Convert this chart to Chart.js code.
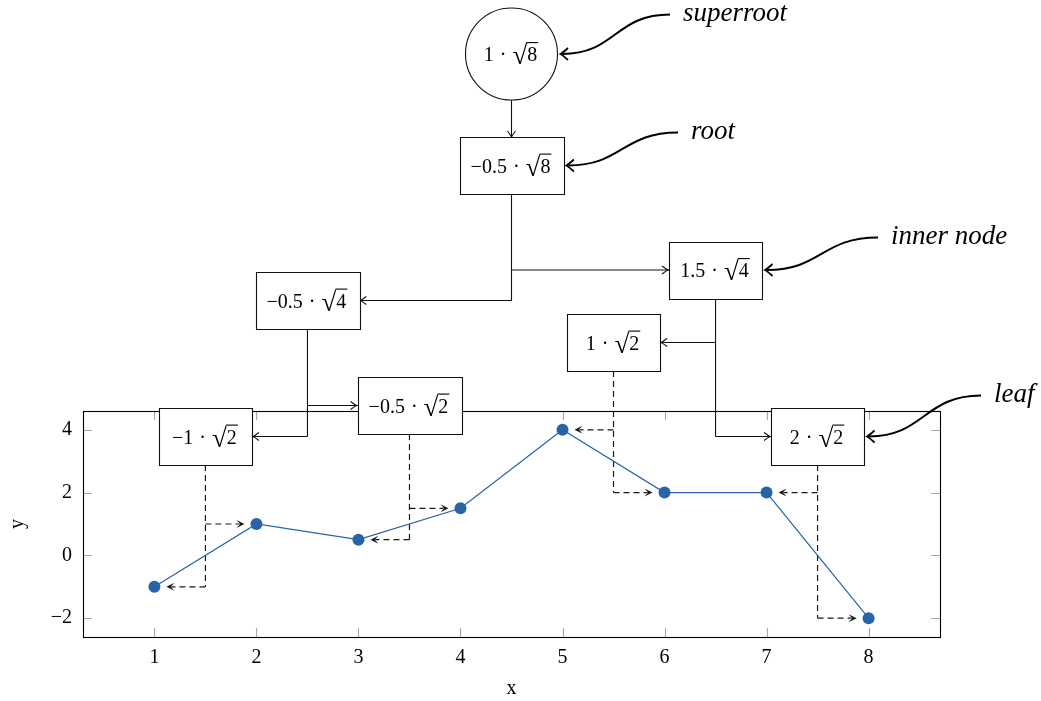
<!DOCTYPE html>
<html>
<head>
<meta charset="utf-8">
<script src="https://cdn.jsdelivr.net/npm/chart.js@4/dist/chart.umd.min.js"></script>
<style>
  html, body { margin: 0; padding: 0; background: #fff; }
  canvas { display: block; }
</style>
</head>
<body>
<canvas id="chart" width="1041" height="701"></canvas>
<script>
// signal samples
const xValues = [1, 2, 3, 4, 5, 6, 7, 8];
const yValues = [-1, 1, 0.5, 1.5, 4, 2, 2, -2];
const xTicks = [1, 2, 3, 4, 5, 6, 7, 8];
const yTicks = [-2, 0, 2, 4];

// Haar coefficients in heap order: superroot, root, two inner nodes, four leaves
const coefficients = [1, -0.5, -0.5, 1.5, -1, -0.5, 1, 2];
const radicands = [8, 8, 4, 4, 2, 2, 2, 2];
const noteLabels = ['superroot', 'root', 'inner node', 'leaf'];

// layout of the tree above the plot (pixels)
const nodeCenterY = [54, 165.5, 300.5, 270, 436.5, 405.5, 342.5, 436.5];
const noteNodes = [0, 1, 3, 7];
const notePos = [[683, 21], [691, 139], [891, 244], [994, 402]];

const BLUE = '#2763a6';
const INK = '#111';
const SERIF = '"Liberation Serif", "DejaVu Serif", serif';
const MATH_FONT = '20px ' + SERIF;
const ROOT_FONT = '27px ' + SERIF;
const NOTE_FONT = 'italic 27px ' + SERIF;
const OP_GAP = 6;
const BOX_H = 57;
const CIRCLE_R = 46;

const fmt = v => String(v).replace('-', '\u2212');

// --- small drawing helpers -------------------------------------------------

// widths of the pieces of "c · √r"
function mathMetrics(ctx, coef, rad) {
  ctx.font = MATH_FONT;
  const wCoef = ctx.measureText(fmt(coef)).width;
  const wDot = ctx.measureText('\u00b7').width;
  const wRad = ctx.measureText(String(rad)).width;
  ctx.font = ROOT_FONT;
  const root = ctx.measureText('\u221a');
  const width = wCoef + OP_GAP + wDot + OP_GAP + root.width + wRad + 2;
  return { wCoef, wDot, wRad, root, width };
}

function drawMath(ctx, cx, base, coef, rad) {
  const m = mathMetrics(ctx, coef, rad);
  ctx.fillStyle = '#000';
  ctx.strokeStyle = '#000';
  ctx.textAlign = 'left';
  ctx.textBaseline = 'alphabetic';
  let x = cx - m.width / 2;
  ctx.font = MATH_FONT;
  ctx.fillText(fmt(coef), x, base);
  x += m.wCoef + OP_GAP;
  ctx.fillText('\u00b7', x, base);
  x += m.wDot + OP_GAP;
  ctx.font = ROOT_FONT;
  const rootBase = base + 3;
  ctx.fillText('\u221a', x, rootBase);
  const top = rootBase - m.root.actualBoundingBoxAscent;
  const barFrom = x + m.root.actualBoundingBoxRight - 1;
  x += m.root.width;
  ctx.font = MATH_FONT;
  ctx.fillText(String(rad), x, base);
  ctx.beginPath();
  ctx.moveTo(barFrom, top + 0.6);
  ctx.lineTo(x + m.wRad + 1, top + 0.6);
  ctx.lineWidth = 1.1;
  ctx.stroke();
}

// open "to" arrow tip
function tipTo(ctx, x, y, angle, len, half, lw) {
  ctx.save();
  ctx.translate(x, y);
  ctx.rotate(angle);
  ctx.beginPath();
  ctx.moveTo(-len, -half);
  ctx.quadraticCurveTo(-len * 0.3, -half * 0.2, 0, 0);
  ctx.quadraticCurveTo(-len * 0.3, half * 0.2, -len, half);
  ctx.lineWidth = lw;
  ctx.setLineDash([]);
  ctx.stroke();
  ctx.restore();
}

// filled stealth tip
function tipStealth(ctx, x, y, angle, len, half) {
  ctx.save();
  ctx.translate(x, y);
  ctx.rotate(angle);
  ctx.beginPath();
  ctx.moveTo(0, 0);
  ctx.lineTo(-len, -half);
  ctx.lineTo(-len * 0.55, 0);
  ctx.lineTo(-len, half);
  ctx.closePath();
  ctx.fill();
  ctx.restore();
}

// x position of a heap node: middle of the samples it covers
function nodeX(n) {
  if (n === 0) n = 1;
  const depth = Math.floor(Math.log2(n));
  const span = xValues.length >> depth;
  const start = (n - (1 << depth)) * span;
  return (xValues[start] + xValues[start + span - 1]) / 2;
}

function nodeBox(ctx, xs, n) {
  const cx = xs.getPixelForValue(nodeX(n));
  const cy = nodeCenterY[n];
  if (n === 0) {
    return { cx, cy, left: cx - CIRCLE_R, right: cx + CIRCLE_R, top: cy - CIRCLE_R, bottom: cy + CIRCLE_R };
  }
  const w = Math.max(93, mathMetrics(ctx, coefficients[n], radicands[n]).width + 22);
  return { cx, cy, w, left: cx - w / 2, right: cx + w / 2, top: cy - BOX_H / 2, bottom: cy + BOX_H / 2 };
}

// --- plugin ----------------------------------------------------------------

const haarTree = {
  id: 'haarTree',

  beforeDatasetsDraw(chart) {
    const { ctx, chartArea: a, scales: { x: xs, y: ys } } = chart;
    ctx.save();

    // inward tick marks on all four sides
    ctx.strokeStyle = '#a6a6a6';
    ctx.lineWidth = 1.1;
    ctx.beginPath();
    xTicks.forEach(v => {
      const px = Math.round(xs.getPixelForValue(v)) + 0.5;
      ctx.moveTo(px, a.bottom); ctx.lineTo(px, a.bottom - 9);
      ctx.moveTo(px, a.top); ctx.lineTo(px, a.top + 9);
    });
    yTicks.forEach(v => {
      const py = Math.round(ys.getPixelForValue(v)) + 0.5;
      ctx.moveTo(a.left, py); ctx.lineTo(a.left + 9, py);
      ctx.moveTo(a.right, py); ctx.lineTo(a.right - 9, py);
    });
    ctx.stroke();

    // axis frame
    ctx.strokeStyle = '#000';
    ctx.lineWidth = 1.1;
    ctx.strokeRect(Math.round(a.left) + 0.5, Math.round(a.top) + 0.5,
      Math.round(a.right - a.left), Math.round(a.bottom - a.top));

    // dashed links from each leaf to its two samples
    ctx.strokeStyle = '#1a1a1a';
    ctx.fillStyle = '#1a1a1a';
    ctx.lineWidth = 1.2;
    for (let k = 0; k < 4; k++) {
      const b = nodeBox(ctx, xs, 4 + k);
      const i = 2 * k, j = 2 * k + 1;
      const lx = b.cx;
      const pl = [xs.getPixelForValue(xValues[i]), ys.getPixelForValue(yValues[i])];
      const pr = [xs.getPixelForValue(xValues[j]), ys.getPixelForValue(yValues[j])];
      const low = Math.max(pl[1], pr[1]);
      ctx.setLineDash([6, 4]);
      ctx.beginPath();
      ctx.moveTo(lx, b.bottom); ctx.lineTo(lx, low);
      ctx.moveTo(lx, pl[1]); ctx.lineTo(pl[0] + 17, pl[1]);
      ctx.moveTo(lx, pr[1]); ctx.lineTo(pr[0] - 17, pr[1]);
      ctx.stroke();
      ctx.setLineDash([]);
      tipStealth(ctx, pl[0] + 12, pl[1], Math.PI, 8, 4);
      tipStealth(ctx, pr[0] - 12, pr[1], 0, 8, 4);
    }
    ctx.restore();
  },

  afterDatasetsDraw(chart) {
    const { ctx, scales: { x: xs } } = chart;
    ctx.save();
    const boxes = coefficients.map((c, n) => nodeBox(ctx, xs, n));

    // tree edges
    ctx.strokeStyle = INK;
    ctx.lineWidth = 1.1;
    const sup = boxes[0], root = boxes[1];
    ctx.beginPath();
    ctx.moveTo(sup.cx, sup.bottom); ctx.lineTo(root.cx, root.top - 1);
    ctx.stroke();
    tipTo(ctx, root.cx, root.top, Math.PI / 2, 6, 4, 1.1);

    for (let p = 1; p < 4; p++) {
      const par = boxes[p];
      const kids = [boxes[2 * p], boxes[2 * p + 1]];
      const low = Math.max(kids[0].cy, kids[1].cy);
      ctx.beginPath();
      ctx.moveTo(par.cx, par.bottom); ctx.lineTo(par.cx, low);
      kids.forEach(kb => {
        const edge = kb.cx < par.cx ? kb.right : kb.left;
        ctx.moveTo(par.cx, kb.cy); ctx.lineTo(edge, kb.cy);
      });
      ctx.stroke();
      kids.forEach(kb => {
        if (kb.cx < par.cx) tipTo(ctx, kb.right + 1, kb.cy, Math.PI, 6, 4, 1.1);
        else tipTo(ctx, kb.left - 1, kb.cy, 0, 6, 4, 1.1);
      });
    }

    // nodes
    boxes.forEach((b, n) => {
      ctx.fillStyle = '#fff';
      ctx.strokeStyle = INK;
      ctx.lineWidth = 1.1;
      ctx.beginPath();
      if (n === 0) ctx.arc(b.cx, b.cy, CIRCLE_R, 0, Math.PI * 2);
      else ctx.rect(Math.round(b.left) + 0.5, Math.round(b.top) + 0.5, Math.round(b.w), BOX_H);
      ctx.fill();
      ctx.stroke();
      drawMath(ctx, b.cx, b.cy + 7, coefficients[n], radicands[n]);
    });

    // curved notes
    ctx.font = NOTE_FONT;
    ctx.textAlign = 'left';
    ctx.textBaseline = 'alphabetic';
    noteLabels.forEach((label, i) => {
      const b = boxes[noteNodes[i]];
      const [tx, ty] = notePos[i];
      ctx.fillStyle = '#000';
      ctx.fillText(label, tx, ty);
      const sx = tx - 13, sy = ty - 6.5;
      const ex = b.right + 3, ey = b.cy;
      const k = (sx - ex) * 0.5;
      ctx.strokeStyle = '#000';
      ctx.lineWidth = 2;
      ctx.beginPath();
      ctx.moveTo(sx, sy);
      ctx.bezierCurveTo(sx - k, sy, ex + k, ey, ex + 2, ey);
      ctx.stroke();
      tipTo(ctx, ex, ey, Math.PI, 7.5, 6, 1.8);
    });
    ctx.restore();
  }
};

// --- chart -----------------------------------------------------------------

const tickFont = { family: SERIF, size: 20 };

new Chart(document.getElementById('chart'), {
  type: 'line',
  data: {
    datasets: [{
      data: xValues.map((x, i) => ({ x, y: yValues[i] })),
      borderColor: BLUE,
      borderWidth: 1.2,
      pointRadius: 6,
      pointBackgroundColor: BLUE,
      pointBorderWidth: 0,
      tension: 0,
      clip: false
    }]
  },
  options: {
    responsive: false,
    devicePixelRatio: 1,
    animation: false,
    events: [],
    layout: { padding: { left: 0, top: 411, right: 101, bottom: 0 } },
    plugins: { legend: { display: false }, tooltip: { enabled: false } },
    scales: {
      x: {
        type: 'linear',
        min: 0.3,
        max: 8.7,
        afterBuildTicks: s => { s.ticks = xTicks.map(value => ({ value })); },
        afterFit: s => { s.height = 64; },
        grid: { display: false, drawTicks: false },
        border: { display: false },
        ticks: { font: tickFont, color: '#000', padding: 9, maxRotation: 0, callback: v => fmt(v) },
        title: { display: true, text: 'x', font: tickFont, color: '#000', padding: { top: 0, bottom: 0 } }
      },
      y: {
        min: -2.6,
        max: 4.6,
        afterBuildTicks: s => { s.ticks = yTicks.map(value => ({ value })); },
        afterFit: s => { s.width = 83; },
        grid: { display: false, drawTicks: false },
        border: { display: false },
        ticks: { font: tickFont, color: '#000', padding: 11, callback: v => fmt(v) },
        title: { display: true, text: 'y', font: tickFont, color: '#000', padding: { top: 6, bottom: 0 } }
      }
    }
  },
  plugins: [haarTree]
});
</script>
</body>
</html>
